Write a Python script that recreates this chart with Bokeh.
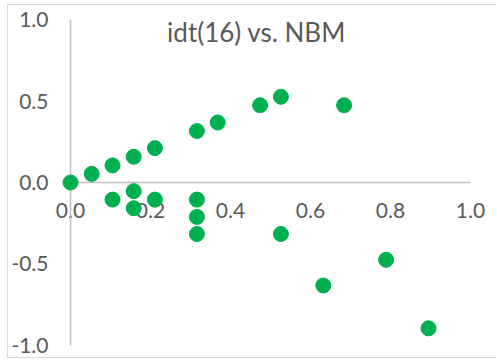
from bokeh.plotting import figure
from bokeh.models import LinearAxis, FixedTicker, PrintfTickFormatter, Label, Range1d
from bokeh.embed import file_html
from bokeh.resources import INLINE

title_text = "idt(16) vs. NBM"
x_vals = [0.0, 0.053, 0.105, 0.158, 0.211, 0.316, 0.368, 0.474, 0.526, 0.684,
          0.105, 0.158, 0.158, 0.211, 0.316, 0.316, 0.316, 0.526, 0.632, 0.789, 0.895]
y_vals = [0.0, 0.053, 0.105, 0.158, 0.211, 0.316, 0.368, 0.474, 0.526, 0.474,
          -0.105, -0.053, -0.158, -0.105, -0.105, -0.211, -0.316, -0.316, -0.632, -0.474, -0.895]
x_ticks = [0.0, 0.2, 0.4, 0.6, 0.8, 1.0]
y_ticks = [-1.0, -0.5, 0.0, 0.5, 1.0]

FONT = "Lato"
TXT = "#595959"
AX = "#BFBFBF"

p = figure(width=489, height=354, output_backend="svg", toolbar_location=None,
           x_range=Range1d(-0.155, 1.0675), y_range=Range1d(-1.0862, 1.0862),
           x_axis_location=None, y_axis_location=None,
           min_border_left=0, min_border_right=0, min_border_top=0, min_border_bottom=0,
           margin=(4, 0, 0, 7))
p.styles = {"border-left": "1px solid #D9D9D9", "border-top": "1px solid #D9D9D9",
            "border-bottom": "1px solid #D9D9D9"}
p.outline_line_color = None
p.grid.visible = False
p.background_fill_color = "white"
p.border_fill_color = "white"


def style_axis(a, ticks, bounds, standoff):
    a.ticker = FixedTicker(ticks=ticks)
    a.formatter = PrintfTickFormatter(format="%.1f")
    a.bounds = bounds
    a.axis_line_color = AX
    a.axis_line_width = 1.5
    a.major_tick_line_color = None
    a.minor_tick_line_color = None
    a.major_tick_in = 0
    a.major_tick_out = 0
    a.major_label_standoff = standoff
    a.major_label_text_font = FONT
    a.major_label_text_font_size = "21px"
    a.major_label_text_color = TXT


ya = LinearAxis(fixed_location=0)
style_axis(ya, y_ticks, (-1, 1), 22)
p.add_layout(ya, "left")

xa = LinearAxis(fixed_location=0)
style_axis(xa, x_ticks, (0, 1), 20)
p.add_layout(xa, "below")

p.scatter(x_vals, y_vals, size=15, color="#00B050", line_color="#00B050", level="overlay")

p.add_layout(Label(x=0.465, y=0.926, text=title_text, text_align="center",
                   text_baseline="alphabetic", text_font=FONT, text_font_size="26px",
                   text_color=TXT))

open("out.html", "w").write(file_html(p, INLINE))
